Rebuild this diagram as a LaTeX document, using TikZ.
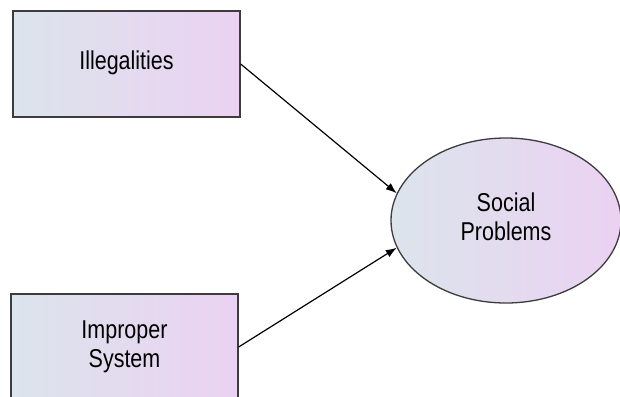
\documentclass[tikz,border=0pt]{standalone}
\usepackage{fontspec}
\setmainfont{Liberation Sans}
\usetikzlibrary{arrows.meta,shapes.geometric}
\definecolor{shadeL}{RGB}{220,228,236}
\definecolor{shadeR}{RGB}{235,210,242}
\definecolor{rim}{RGB}{60,60,60}
\newcommand{\labeltext}[1]{\scalebox{1}[1.2]{\begin{tabular}{@{}c@{}}#1\end{tabular}}}
\tikzset{
  boxnode/.style={draw=rim, line width=1.3pt, left color=shadeL, right color=shadeR,
    minimum width=227pt, minimum height=106pt, inner sep=0pt,
    font=\fontsize{21.5}{24}\selectfont},
  ovalnode/.style={ellipse, draw=rim, line width=1.3pt, left color=shadeL, right color=shadeR,
    minimum width=230pt, minimum height=165pt, inner sep=0pt,
    font=\fontsize{21.5}{24}\selectfont},
  link/.style={line width=1.2pt, -{Latex[length=11pt,width=8pt]}}
}
\begin{document}
\begin{tikzpicture}[x=1pt,y=-1pt]
  \useasboundingbox (0,0) rectangle (620,396);
  \clip (0,0) rectangle (620,396);
  \fill[white] (0,0) rectangle (620,396);
  \node[boxnode] (ill) at (126.5,64) {\labeltext{Illegalities}};
  \node[boxnode] (imp) at (124.5,347) {\labeltext{Improper\\System}};
  \node[ovalnode] (soc) at (506,220.5) {\labeltext{Social\\Problems}};
  \draw[link] (ill.east) -- (soc.166);
  \draw[link] (imp.east) -- (soc.194);
\end{tikzpicture}
\end{document}
